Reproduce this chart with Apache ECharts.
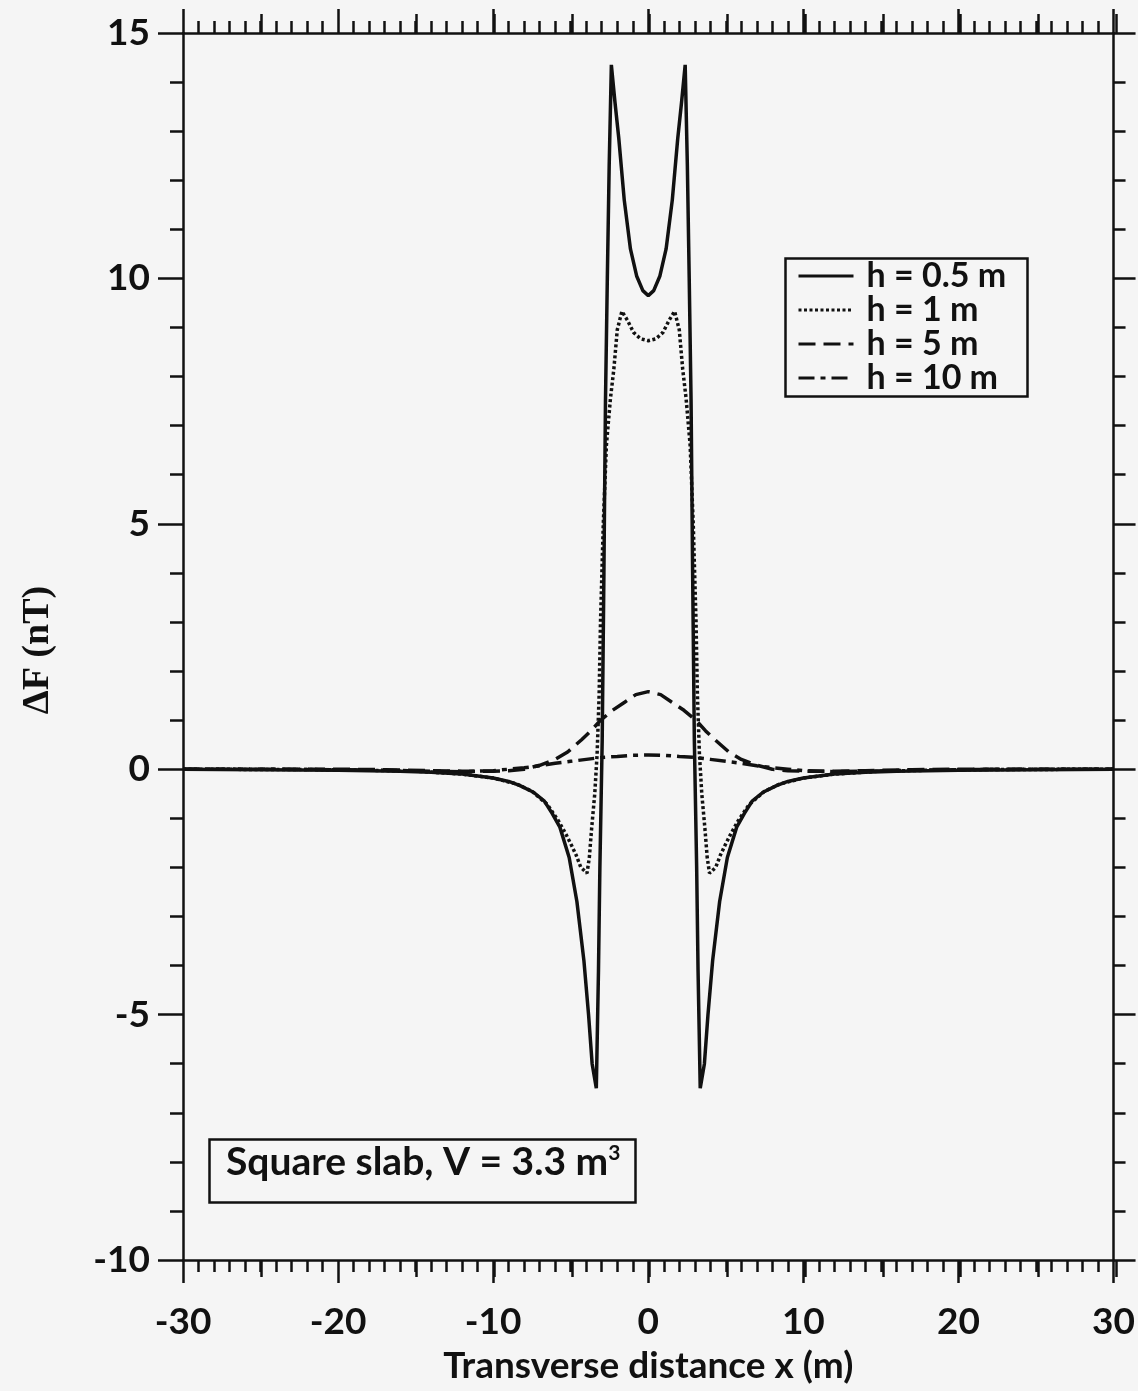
<!DOCTYPE html>
<html>
<head>
<meta charset="utf-8">
<script src="https://cdn.jsdelivr.net/npm/echarts@6/dist/echarts.min.js"></script>
<style>
html,body{margin:0;padding:0;background:#f5f5f5;}
#chart{width:1138px;height:1391px;}
</style>
</head>
<body>
<div id="chart"></div>
<script>
// ---- data ----
const h05X = [-30,-25,-20,-16,-14,-12,-10,-9,-8.3,-7.4,-6.7,-6.2,-5.7,-5.1,-4.6,-4.15,-3.85,-3.62,-3.35,-3.28,-3.21,-3.12,-2.97,-2.86,-2.76,-2.64,-2.52,-2.38,-2.15,-1.9,-1.55,-1.15,-0.75,-0.35,0,
              0.35,0.75,1.15,1.55,1.9,2.15,2.38,2.52,2.64,2.76,2.86,2.97,3.12,3.21,3.28,3.35,3.62,3.85,4.15,4.6,5.1,5.7,6.2,6.7,7.4,8.3,9,10,12,14,16,20,25,30];
const h05Y = [0,-0.01,-0.02,-0.04,-0.06,-0.1,-0.18,-0.25,-0.33,-0.47,-0.65,-0.9,-1.18,-1.8,-2.7,-3.9,-5.0,-6.0,-6.5,-5.3,-4.1,-2.0,0.6,4.0,7.5,10.0,12.3,14.35,13.6,12.85,11.6,10.6,10.05,9.75,9.65,
              9.75,10.05,10.6,11.6,12.85,13.6,14.35,12.3,10.0,7.5,4.0,0.6,-2.0,-4.1,-5.3,-6.5,-6.0,-5.0,-3.9,-2.7,-1.8,-1.18,-0.9,-0.65,-0.47,-0.33,-0.25,-0.18,-0.1,-0.06,-0.04,-0.02,-0.01,0];

const h1X = [-30,-20,-15,-12,-10,-8.5,-7.5,-6.5,-5.8,-5.35,-4.95,-4.65,-4.35,-3.95,-3.8,-3.65,-3.45,-3.3,-3.17,-3.08,-2.9,-2.7,-2.44,-2.22,-2.0,-1.7,-1.35,-0.95,-0.5,0,
             0.5,0.95,1.35,1.7,2.0,2.22,2.44,2.7,2.9,3.08,3.17,3.3,3.45,3.65,3.8,3.95,4.35,4.65,4.95,5.35,5.8,6.5,7.5,8.5,10,12,15,20,30];
const h1Y = [0,-0.01,-0.04,-0.1,-0.18,-0.3,-0.45,-0.72,-1.05,-1.3,-1.55,-1.75,-2.0,-2.12,-1.8,-1.2,-0.5,0.3,1.5,3.0,5.0,6.6,7.55,8.15,8.95,9.33,9.15,8.9,8.77,8.73,
             8.77,8.9,9.15,9.33,8.95,8.15,7.55,6.6,5.0,3.0,1.5,0.3,-0.5,-1.2,-1.8,-2.12,-2.0,-1.75,-1.55,-1.3,-1.05,-0.72,-0.45,-0.3,-0.18,-0.1,-0.04,-0.01,0];

const h5X = [-30,-20,-17,-14,-12,-10,-9,-8,-7,-6,-5.2,-4.3,-3.7,-3.1,-2.3,-1.5,-0.8,0,0.8,1.5,2.3,3.1,3.7,4.3,5.2,6,7,8,9,10,12,14,17,20,30];
const h5Y = [0,0,-0.01,-0.03,-0.04,-0.04,-0.03,0,0.08,0.2,0.35,0.6,0.78,0.99,1.2,1.37,1.52,1.58,1.52,1.37,1.2,0.99,0.78,0.6,0.35,0.2,0.08,0,-0.03,-0.04,-0.04,-0.03,-0.01,0,0];

const h10X = [-30,-25,-20,-17,-14,-12,-10,-9,-8,-7,-6,-5,-4,-3,-2,-1,0,1,2,3,4,5,6,7,8,9,10,12,14,17,20,25,30];
const h10Y = [0,0,-0.01,-0.02,-0.04,-0.05,-0.03,0,0.03,0.07,0.12,0.16,0.2,0.24,0.26,0.285,0.29,0.285,0.26,0.24,0.2,0.16,0.12,0.07,0.03,0,-0.03,-0.05,-0.04,-0.02,-0.01,0,0];

const seriesNames = ['h = 0.5 m','h = 1 m','h = 5 m','h = 10 m'];
const xTickLabels = [-30,-20,-10,0,10,20,30];
const yTickLabels = [-10,-5,0,5,10,15];
const noteText = 'Square slab, V = 3.3 m';

function pairs(xs, ys){ return xs.map((x,i)=>[x, ys[i]]); }

const FONT = "'Lato', sans-serif";
const INK = '#111';

const chart = echarts.init(document.getElementById('chart'), null, {renderer:'canvas'});

const gridRect = {left:183, right:22, top:33, bottom:131};

const option = {
  backgroundColor:'#f5f5f5',
  animation:false,
  grid:[Object.assign({}, gridRect), Object.assign({}, gridRect)],
  xAxis:[
    { gridIndex:0, type:'value', position:'bottom', min:-30, max:30, interval:10,
      axisLine:{show:true, onZero:false, lineStyle:{color:INK, width:2.5}},
      axisTick:{show:true, inside:false, length:23, lineStyle:{color:INK, width:2.5}},
      minorTick:{show:true, splitNumber:10, length:12, lineStyle:{color:INK, width:2.5}},
      splitLine:{show:false},
      axisLabel:{show:true, margin:44, color:INK, fontFamily:FONT, fontWeight:'bold', fontSize:37,
        formatter:(v)=> xTickLabels.includes(v) ? String(v) : ''},
      name:'Transverse distance x (m)', nameLocation:'middle', nameGap:88,
      nameTextStyle:{color:INK, fontFamily:FONT, fontWeight:'bold', fontSize:37}
    },
    { gridIndex:0, type:'value', position:'top', min:-30, max:30, interval:10,
      axisLine:{show:true, onZero:false, lineStyle:{color:INK, width:2.5}},
      axisTick:{show:true, inside:false, length:24, lineStyle:{color:INK, width:2.5}},
      minorTick:{show:true, splitNumber:10, length:12, lineStyle:{color:INK, width:2.5}},
      splitLine:{show:false}, axisLabel:{show:false}
    },
    { gridIndex:1, type:'value', position:'bottom', min:-30, max:30, interval:5,
      axisLine:{show:false, onZero:false},
      axisTick:{show:true, inside:false, length:17, lineStyle:{color:INK, width:2.5}},
      splitLine:{show:false}, axisLabel:{show:false}
    },
    { gridIndex:1, type:'value', position:'top', min:-30, max:30, interval:5,
      axisLine:{show:false, onZero:false},
      axisTick:{show:true, inside:false, length:19, lineStyle:{color:INK, width:2.5}},
      splitLine:{show:false}, axisLabel:{show:false}
    }
  ],
  yAxis:[
    { gridIndex:0, type:'value', position:'left', min:-10, max:15, interval:5,
      axisLine:{show:true, onZero:false, lineStyle:{color:INK, width:2.5}},
      axisTick:{show:true, inside:false, length:25, lineStyle:{color:INK, width:2.5}},
      minorTick:{show:true, splitNumber:5, length:13, lineStyle:{color:INK, width:2.5}},
      splitLine:{show:false},
      axisLabel:{show:true, margin:33, color:INK, fontFamily:FONT, fontWeight:'bold', fontSize:37,
        formatter:(v)=> yTickLabels.includes(v) ? String(v) : ''}
    },
    { gridIndex:0, type:'value', position:'right', min:-10, max:15, interval:5,
      axisLine:{show:true, onZero:false, lineStyle:{color:INK, width:2.5}},
      axisTick:{show:true, inside:false, length:22, lineStyle:{color:INK, width:2.5}},
      minorTick:{show:true, splitNumber:5, length:12, lineStyle:{color:INK, width:2.5}},
      splitLine:{show:false}, axisLabel:{show:false}
    },
    { gridIndex:1, type:'value', show:false, min:-10, max:15 }
  ],
  legend:{
    orient:'vertical', left:797, top:259, padding:0, itemGap:0,
    itemWidth:55, itemHeight:30,
    data:seriesNames,
    itemStyle:{opacity:0},
    lineStyle:{width:3},
    textStyle:{color:INK, fontFamily:FONT, fontWeight:'bold', fontSize:34, lineHeight:30, padding:[0,0,0,8]},
    selectedMode:false
  },
  graphic:[
    { type:'rect', left:783, top:256, shape:{width:242, height:138},
      style:{fill:'none', stroke:INK, lineWidth:2.5}, z:100 },
    { type:'rect', left:207, top:1137, shape:{width:426, height:63},
      style:{fill:'none', stroke:INK, lineWidth:2.5}, z:100 },
    { type:'text', left:226, top:1143,
      style:{text:noteText + '{s|3}', fill:INK, font:"bold 39px 'Lato', sans-serif",
        rich:{s:{fontSize:21, fontWeight:'bold', fontFamily:FONT, verticalAlign:'top', fill:INK}}}, z:100 },
    { type:'text', x:38, y:650, rotation:Math.PI/2,
      style:{text:'\u0394F (nT)', fill:INK, font:"bold 38px 'Liberation Serif', serif", align:'center', verticalAlign:'middle'}, z:100 }
  ],
  series:[
    { name:seriesNames[0], type:'line', xAxisIndex:0, yAxisIndex:0, data:pairs(h05X,h05Y), symbol:'none', showSymbol:false,
      lineStyle:{color:INK, width:3.5, type:'solid'}, itemStyle:{color:INK}, z:5 },
    { name:seriesNames[1], type:'line', xAxisIndex:0, yAxisIndex:0, data:pairs(h1X,h1Y), symbol:'none', showSymbol:false,
      lineStyle:{color:INK, width:3.5, type:[3,2.5]}, itemStyle:{color:INK}, z:4 },
    { name:seriesNames[2], type:'line', xAxisIndex:0, yAxisIndex:0, data:pairs(h5X,h5Y), symbol:'none', showSymbol:false,
      lineStyle:{color:INK, width:3.5, type:[17,8]}, itemStyle:{color:INK}, z:3 },
    { name:seriesNames[3], type:'line', xAxisIndex:0, yAxisIndex:0, data:pairs(h10X,h10Y), symbol:'none', showSymbol:false,
      lineStyle:{color:INK, width:3.5, type:[16,6,5,6]}, itemStyle:{color:INK}, z:3 },
    { type:'line', xAxisIndex:2, yAxisIndex:2, data:[], silent:true }
  ]
};
chart.setOption(option);
</script>
</body>
</html>
